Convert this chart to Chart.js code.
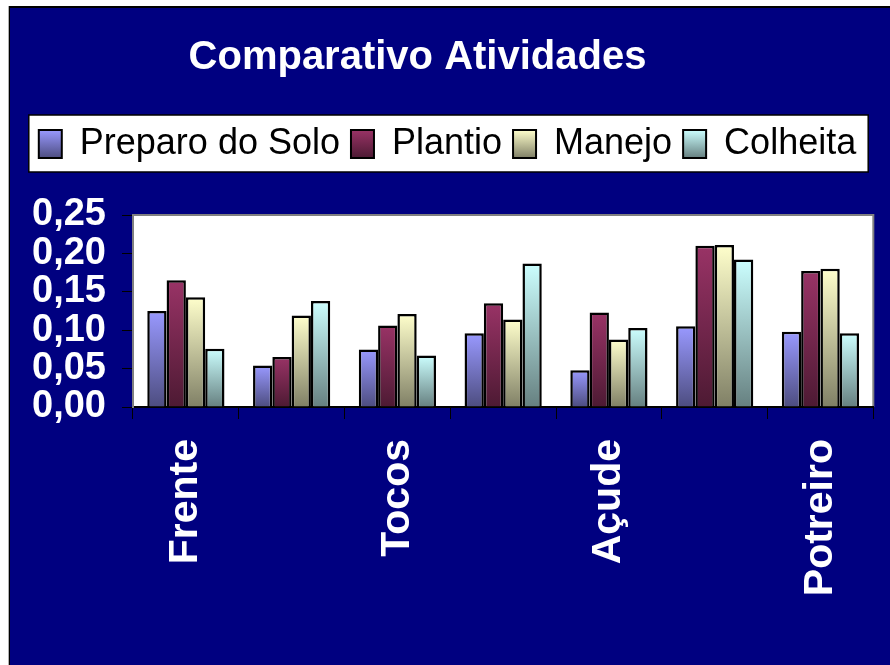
<!DOCTYPE html>
<html>
<head>
<meta charset="utf-8">
<script src="https://cdn.jsdelivr.net/npm/chart.js@4"></script>
<style>
  html, body { margin: 0; padding: 0; background: #fff; }
  #panel {
    position: absolute; left: 9px; top: 6px;
    width: 880px; height: 657px;
    background: #000080;
    border-left: 1px solid #000; border-top: 2px solid #000;
    box-shadow: -1px 0 0 #b0b0b0;
  }
</style>
</head>
<body>
<div id="panel"><canvas id="myChart" width="880" height="657"></canvas></div>
<script>
// data
const categories = ['Frente', '', 'Tocos', '', 'Açude', '', 'Potreiro'];
const seriesNames = ['Preparo do Solo', 'Plantio', 'Manejo', 'Colheita'];
const preparoDoSolo = [0.125, 0.054, 0.075, 0.096, 0.048, 0.105, 0.098];
const plantio = [0.165, 0.065, 0.106, 0.135, 0.123, 0.210, 0.177];
const manejo = [0.143, 0.119, 0.121, 0.114, 0.088, 0.211, 0.180];
const colheita = [0.076, 0.138, 0.067, 0.187, 0.103, 0.192, 0.096];
const yTickLabels = ['0,00', '0,05', '0,10', '0,15', '0,20', '0,25'];

const topColors = ['#9999ff', '#993366', '#ffffcc', '#ccffff'];
const bottomColors = ['#4d4d80', '#4d1a33', '#808066', '#668080'];
const seriesValues = [preparoDoSolo, plantio, manejo, colheita];

function barFill(top, bottom) {
	return function(ctx) {
		var chart = ctx.chart;
		var y = chart.scales.y;
		if (!y || ctx.raw === undefined) return top;
		var y0 = y.getPixelForValue(ctx.raw), y1 = y.getPixelForValue(0);
		if (!isFinite(y0) || !isFinite(y1) || y0 === y1) return top;
		var g = chart.ctx.createLinearGradient(0, y0, 0, y1);
		g.addColorStop(0, top);
		g.addColorStop(1, bottom);
		return g;
	};
}

var datasets = seriesNames.map(function(name, i) {
	return {
		label: name,
		data: seriesValues[i],
		backgroundColor: barFill(topColors[i], bottomColors[i]),
		borderColor: '#000',
		borderWidth: 2.5,
		barPercentage: 1,
		categoryPercentage: 0.73
	};
});

// white plot area, white legend box, title nudge, gap under the legend
var decor = {
	id: 'decor',
	beforeInit: function(chart) {
		Chart.layouts.addBox(chart, {
			position: 'top', weight: 0, fullSize: true, options: {},
			isHorizontal: function() { return true; },
			update: function(w) { this.width = w; this.height = 43; },
			draw: function() {}
		});
	},
	afterLayout: function(chart) {
		chart.titleBlock.left -= 30;
		chart.titleBlock.right -= 30;
	},
	beforeDraw: function(chart) {
		var c = chart.ctx, a = chart.chartArea, lg = chart.legend;
		c.save();
		if (lg && lg.legendHitBoxes && lg.legendHitBoxes.length) {
			var l = Infinity, r = -Infinity;
			lg.legendHitBoxes.forEach(function(h) {
				l = Math.min(l, h.left);
				r = Math.max(r, h.left + h.width);
			});
			c.fillStyle = '#fff';
			c.fillRect(l - 10, lg.top, r - l + 22, lg.bottom - lg.top);
			c.strokeStyle = '#000';
			c.lineWidth = 1.5;
			c.strokeRect(l - 10, lg.top, r - l + 22, lg.bottom - lg.top);
		}
		c.fillStyle = '#fff';
		c.fillRect(a.left, a.top, a.right - a.left, a.bottom - a.top);
		c.strokeStyle = '#808080';
		c.lineWidth = 2;
		c.beginPath();
		c.moveTo(a.left, a.top);
		c.lineTo(a.right, a.top);
		c.lineTo(a.right, a.bottom);
		c.stroke();
		c.restore();
	}
};

var ctx = document.getElementById('myChart');
var myChart = new Chart(ctx, {
	type: 'bar',
	data: { labels: categories, datasets: datasets },
	plugins: [decor],
	options: {
		responsive: false,
		animation: false,
		layout: { padding: { top: 0, left: 0, right: 5, bottom: 0 } },
		plugins: {
			tooltip: { enabled: false },
			title: {
				display: true,
				text: 'Comparativo Atividades',
				color: '#fff',
				font: { family: '"Liberation Sans", Arial, sans-serif', size: 40, weight: 'bold', lineHeight: 1.2 },
				padding: { top: 26, bottom: 33 }
			},
			legend: {
				display: true,
				position: 'top',
				labels: {
					color: '#000',
					font: { family: '"Liberation Sans", Arial, sans-serif', size: 36, lineHeight: 1.2 },
					boxWidth: 23,
					boxHeight: 28,
					padding: 11,
					generateLabels: function(chart) {
						var items = Chart.defaults.plugins.legend.labels.generateLabels(chart);
						items.forEach(function(it, i) {
							var g = chart.ctx.createLinearGradient(0, 122, 0, 150);
							g.addColorStop(0, topColors[i]);
							g.addColorStop(1, bottomColors[i]);
							it.fillStyle = g;
							it.strokeStyle = '#000';
							it.lineWidth = 2;
						});
						return items;
					}
				}
			}
		},
		scales: {
			x: {
				afterFit: function(scale) { scale.height = 258; },
				grid: { offset: true, drawOnChartArea: false, color: '#000', tickLength: 12, lineWidth: 1 },
				border: { color: '#000', width: 2 },
				ticks: {
					autoSkip: false,
					maxRotation: 90,
					minRotation: 90,
					padding: 20,
					color: '#fff',
					font: { family: '"Liberation Sans", Arial, sans-serif', size: 41, weight: 'bold' }
				}
			},
			y: {
				min: 0,
				max: 0.25,
				afterFit: function(scale) { scale.width = 123; },
				grid: { drawOnChartArea: false, color: '#000', tickLength: 11 },
				border: { color: '#808080', width: 2 },
				ticks: {
					stepSize: 0.05,
					autoSkip: false,
					padding: 16,
					color: '#fff',
					font: { family: '"Liberation Sans", Arial, sans-serif', size: 38, weight: 'bold', lineHeight: 1 },
					callback: function(value, index) { return yTickLabels[index]; }
				}
			}
		}
	}
});
</script>
</body>
</html>
